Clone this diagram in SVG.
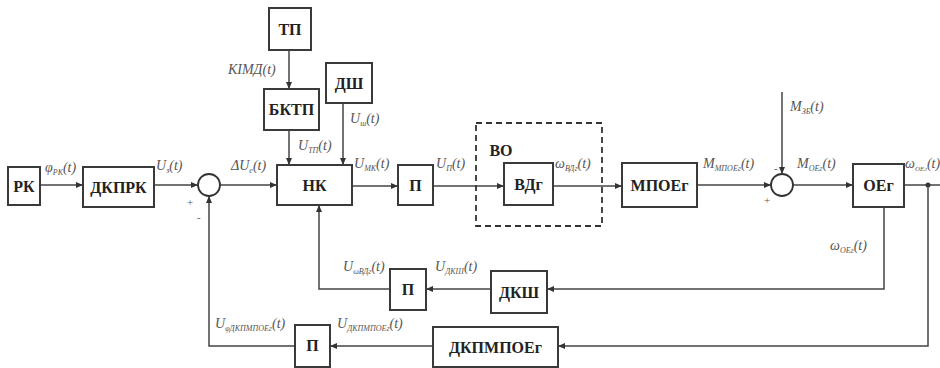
<svg xmlns="http://www.w3.org/2000/svg" width="940" height="368" viewBox="0 0 940 368">
<defs>
<marker id="ar" markerWidth="8" markerHeight="8" refX="7" refY="4" orient="auto" markerUnits="userSpaceOnUse">
<path d="M0,1 L7,4 L0,7 Z" fill="#333"/>
</marker>
<style>
.box{fill:#fff;stroke:#3a3a3a;stroke-width:2}
.bt{font-weight:bold;font-size:16px;fill:#222;text-anchor:middle}
.ln{fill:none;stroke:#444;stroke-width:1.5}
.lb{font-style:italic;font-size:14px;fill:#555}
.sb{font-size:8px}
.pm{font-size:11px;fill:#555}
</style>
</defs>
<rect width="940" height="368" fill="#fff"/>
<g id="connectors">
<path class="ln" d="M40,185 H83" marker-end="url(#ar)"/>
<path class="ln" d="M154,185 H198" marker-end="url(#ar)"/>
<path class="ln" d="M220,185 H277" marker-end="url(#ar)"/>
<path class="ln" d="M289,50 V89" marker-end="url(#ar)"/>
<path class="ln" d="M289,130 V165" marker-end="url(#ar)"/>
<path class="ln" d="M343,103 V165" marker-end="url(#ar)"/>
<path class="ln" d="M352,186 H398" marker-end="url(#ar)"/>
<path class="ln" d="M433,186 H504" marker-end="url(#ar)"/>
<path class="ln" d="M553,186 H622" marker-end="url(#ar)"/>
<path class="ln" d="M697,185 H771" marker-end="url(#ar)"/>
<path class="ln" d="M782,92 V174" marker-end="url(#ar)"/>
<path class="ln" d="M793,185 H853" marker-end="url(#ar)"/>
<path class="ln" d="M904,185 H940"/>
<circle cx="928" cy="185" r="2.5" fill="#333"/>
<path class="ln" d="M884,207 V289 H547" marker-end="url(#ar)"/>
<path class="ln" d="M491,289 H426" marker-end="url(#ar)"/>
<path class="ln" d="M390,289 H319 V205" marker-end="url(#ar)"/>
<path class="ln" d="M928,185 V346 H558" marker-end="url(#ar)"/>
<path class="ln" d="M433,346 H330" marker-end="url(#ar)"/>
<path class="ln" d="M295,346 H209 V196" marker-end="url(#ar)"/>
<rect x="476" y="123" width="126" height="103" fill="none" stroke="#333" stroke-width="1.8" stroke-dasharray="6,4"/>
</g>
<g font-family="Liberation Serif, Times New Roman, serif">
<g id="sum1"><circle cx="209" cy="185" r="11" fill="#fff" stroke="#333" stroke-width="1.8"/><text class="pm" x="187" y="206">+</text><text class="pm" x="197" y="221">-</text></g>
<g id="sum2"><circle cx="782" cy="185" r="11" fill="#fff" stroke="#333" stroke-width="1.8"/><text class="pm" x="764" y="204">+</text><text class="pm" x="774" y="172">-</text></g>
<g id="RK"><rect class="box" x="8" y="167" width="32" height="38"/><text class="bt" x="24" y="192">РК</text></g>
<g id="DKPRK"><rect class="box" x="83" y="167" width="71" height="40"/><text class="bt" x="118.5" y="193">ДКПРК</text></g>
<g id="TP"><rect class="box" x="269" y="8" width="42" height="42"/><text class="bt" x="290" y="35">ТП</text></g>
<g id="BKTP"><rect class="box" x="264" y="89" width="55" height="41"/><text class="bt" x="291.5" y="115">БКТП</text></g>
<g id="DSh"><rect class="box" x="326" y="63" width="46" height="40"/><text class="bt" x="349" y="89">ДШ</text></g>
<g id="NK"><rect class="box" x="277" y="165" width="75" height="40"/><text class="bt" x="314.5" y="191">НК</text></g>
<g id="P1"><rect class="box" x="398" y="165" width="35" height="40"/><text class="bt" x="415.5" y="191">П</text></g>
<g id="VO"><text class="bt" x="501" y="156">ВО</text></g>
<g id="VDg"><rect class="box" x="504" y="163" width="49" height="42"/><text class="bt" x="528.5" y="190">ВДг</text></g>
<g id="MPOEg"><rect class="box" x="622" y="163" width="75" height="44"/><text class="bt" x="659.5" y="191">МПОЕг</text></g>
<g id="OEg"><rect class="box" x="853" y="164" width="51" height="43"/><text class="bt" x="878.5" y="191">ОЕг</text></g>
<g id="DKSh"><rect class="box" x="491" y="271" width="56" height="42"/><text class="bt" x="519" y="298">ДКШ</text></g>
<g id="P2"><rect class="box" x="390" y="269" width="36" height="41"/><text class="bt" x="408" y="295">П</text></g>
<g id="DKPMPOEg"><rect class="box" x="433" y="327" width="125" height="40"/><text class="bt" x="495.5" y="353">ДКПМПОЕг</text></g>
<g id="P3"><rect class="box" x="295" y="325" width="35" height="42"/><text class="bt" x="312.5" y="351">П</text></g>
<g id="labels">
<text class="lb" x="45" y="172">φ<tspan class="sb" dy="3">РК</tspan><tspan dy="-3">(t)</tspan></text>
<text class="lb" x="156" y="170">U<tspan class="sb" dy="3">з</tspan><tspan dy="-3">(t)</tspan></text>
<text class="lb" x="231" y="170">ΔU<tspan class="sb" dy="3">е</tspan><tspan dy="-3">(t)</tspan></text>
<text class="lb" x="228" y="74">КІМД(t)</text>
<text class="lb" x="298" y="150">U<tspan class="sb" dy="3">ТП</tspan><tspan dy="-3">(t)</tspan></text>
<text class="lb" x="350" y="123">U<tspan class="sb" dy="3">ш</tspan><tspan dy="-3">(t)</tspan></text>
<text class="lb" x="354" y="168">U<tspan class="sb" dy="3">МК</tspan><tspan dy="-3">(t)</tspan></text>
<text class="lb" x="436" y="168">U<tspan class="sb" dy="3">П</tspan><tspan dy="-3">(t)</tspan></text>
<text class="lb" x="555" y="168">ω<tspan class="sb" dy="3">ВДг</tspan><tspan dy="-3">(t)</tspan></text>
<text class="lb" x="703" y="168">M<tspan class="sb" dy="3">МПОЕг</tspan><tspan dy="-3">(t)</tspan></text>
<text class="lb" x="790" y="111">M<tspan class="sb" dy="3">ЗБ</tspan><tspan dy="-3">(t)</tspan></text>
<text class="lb" x="797" y="168">M<tspan class="sb" dy="3">ОЕг</tspan><tspan dy="-3">(t)</tspan></text>
<text class="lb" x="905" y="168" font-size="12">ω<tspan font-size="7" dy="3">ОЕг</tspan><tspan dy="-3">(t)</tspan></text>
<text class="lb" x="830" y="250">ω<tspan class="sb" dy="3">ОЕг</tspan><tspan dy="-3">(t)</tspan></text>
<text class="lb" x="435" y="271">U<tspan class="sb" dy="3">ДКШ</tspan><tspan dy="-3">(t)</tspan></text>
<text class="lb" x="343" y="271">U<tspan class="sb" dy="3">ωВДг</tspan><tspan dy="-3">(t)</tspan></text>
<text class="lb" x="337" y="328">U<tspan class="sb" dy="3">ДКПМПОЕг</tspan><tspan dy="-3">(t)</tspan></text>
<text class="lb" x="215" y="328">U<tspan class="sb" dy="3">φДКПМПОЕг</tspan><tspan dy="-3">(t)</tspan></text>
</g>
</g>
</svg>
